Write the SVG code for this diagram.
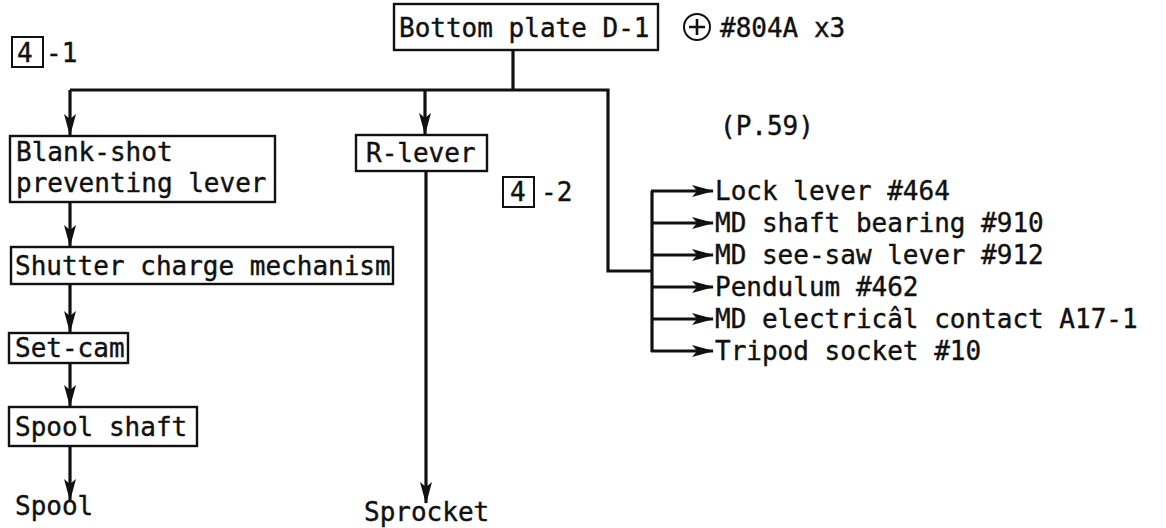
<svg xmlns="http://www.w3.org/2000/svg" width="1166" height="528" viewBox="0 0 1166 528">
<defs>
<style>
.t{font-family:"DejaVu Sans Mono","Liberation Mono",monospace;font-size:26px;fill:#111;stroke:#111;stroke-width:0.4}
.box{fill:#fff;stroke:#111;stroke-width:2.4}
.ln{fill:none;stroke:#111;stroke-width:3.2}
.lbl{fill:none;stroke:#111;stroke-width:2}
</style>
<marker id="ah" viewBox="0 0 22 12" refX="21" refY="6" markerWidth="22" markerHeight="12" markerUnits="userSpaceOnUse" orient="auto">
<path d="M0,0 L22,6 L0,12 L5,6 Z" fill="#111"/>
</marker>
</defs>
<rect width="1166" height="528" fill="#fff"/>
<g id="connectors">
<path class="ln" d="M513,50 V90"/>
<path class="ln" d="M70,90 H608 V271 H652"/>
<path class="ln" d="M70,90 V135" marker-end="url(#ah)"/>
<path class="ln" d="M425,90 V134" marker-end="url(#ah)"/>
<path class="ln" d="M70,202 V246" marker-end="url(#ah)"/>
<path class="ln" d="M70,284 V332" marker-end="url(#ah)"/>
<path class="ln" d="M70,363 V406" marker-end="url(#ah)"/>
<path class="ln" d="M70,446 V500" marker-end="url(#ah)"/>
<path class="ln" d="M426,171 V503" marker-end="url(#ah)"/>
<path class="ln" d="M652,191 V352"/>
<path class="ln" d="M651,191 H713" marker-end="url(#ah)"/>
<path class="ln" d="M651,223 H713" marker-end="url(#ah)"/>
<path class="ln" d="M651,255 H713" marker-end="url(#ah)"/>
<path class="ln" d="M651,287 H713" marker-end="url(#ah)"/>
<path class="ln" d="M651,319 H713" marker-end="url(#ah)"/>
<path class="ln" d="M651,351 H713" marker-end="url(#ah)"/>
</g>
<g id="bottom-plate">
<rect class="box" x="394" y="4" width="264" height="46"/>
<text class="t" x="399" y="37">Bottom plate D-1</text>
</g>
<g id="screw-note">
<circle cx="697" cy="27" r="13" fill="none" stroke="#111" stroke-width="2"/>
<path d="M697,19 V35 M689,27 H705" stroke="#111" stroke-width="2.6"/>
<text class="t" x="720" y="37">#804A x3</text>
</g>
<g id="label-4-1">
<rect class="lbl" x="12" y="37" width="31" height="30"/>
<text class="t" x="17" y="62">4</text>
<text class="t" x="46" y="62">-1</text>
</g>
<g id="label-4-2">
<rect class="lbl" x="503" y="177" width="31" height="30"/>
<text class="t" x="510" y="201">4</text>
<text class="t" x="541" y="201">-2</text>
</g>
<g id="page-ref">
<text class="t" x="720" y="135">(P.59)</text>
</g>
<g id="blank-shot">
<rect class="box" x="10" y="136" width="265" height="66"/>
<text class="t" x="16" y="161">Blank-shot</text>
<text class="t" x="16" y="192">preventing lever</text>
</g>
<g id="r-lever">
<rect class="box" x="356" y="135" width="131" height="36"/>
<text class="t" x="366" y="162">R-lever</text>
</g>
<g id="shutter-charge">
<rect class="box" x="11" y="247" width="382" height="37"/>
<text class="t" x="15" y="275">Shutter charge mechanism</text>
</g>
<g id="set-cam">
<rect class="box" x="9" y="333" width="119" height="30"/>
<text class="t" x="15" y="357">Set-cam</text>
</g>
<g id="spool-shaft">
<rect class="box" x="9" y="407" width="188" height="39"/>
<text class="t" x="15" y="436">Spool shaft</text>
</g>
<g id="spool">
<text class="t" x="15" y="515">Spool</text>
</g>
<g id="sprocket">
<text class="t" x="364" y="521">Sprocket</text>
</g>
<g id="lock-lever"><text class="t" x="715" y="200">Lock lever #464</text></g>
<g id="md-shaft-bearing"><text class="t" x="715" y="232">MD shaft bearing #910</text></g>
<g id="md-see-saw-lever"><text class="t" x="715" y="264">MD see-saw lever #912</text></g>
<g id="pendulum"><text class="t" x="715" y="296">Pendulum #462</text></g>
<g id="md-electrical-contact"><text class="t" x="715" y="328">MD electricâl contact A17-1</text></g>
<g id="tripod-socket"><text class="t" x="715" y="360">Tripod socket #10</text></g>
</svg>
